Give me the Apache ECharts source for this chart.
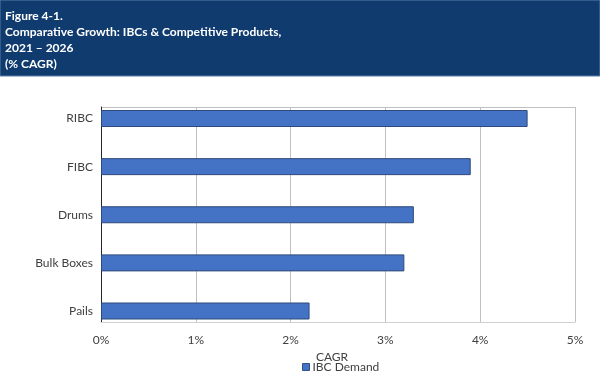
<!DOCTYPE html>
<html>
<head>
<meta charset="utf-8">
<script src="https://cdn.jsdelivr.net/npm/echarts@6/dist/echarts.min.js"></script>
<style>
  html, body { margin: 0; padding: 0; background: #fff; }
  #chart { width: 600px; height: 375px; }
</style>
</head>
<body>
<div id="chart"></div>
<script>
const categories = ['RIBC', 'FIBC', 'Drums', 'Bulk Boxes', 'Pails'];
const cagrValues = [4.5, 3.9, 3.3, 3.2, 2.2];
const tickLabels = ['0%', '1%', '2%', '3%', '4%', '5%'];

const myChart = echarts.init(document.getElementById('chart'));
const font = "Lato, 'Open Sans', sans-serif";
const labelColor = '#404040';
const gridColor = '#c0c0c0';

let option = {
    animation: false,
    textStyle: {fontFamily: font},
    graphic: [
        {
            type: 'rect',
            shape: {x: 0, y: 0, width: 600, height: 76},
            style: {fill: '#0f3b6e', stroke: '#5a7fa8', lineWidth: 1},
            z: 0
        }
    ],
    title: {
        text: 'Figure 4-1.\nComparative Growth: IBCs & Competitive Products,\n2021 \u2013 2026\n(% CAGR)',
        left: 0,
        top: 3,
        textStyle: {
            color: '#ffffff',
            fontSize: 12,
            fontWeight: 'bold',
            lineHeight: 16,
            fontFamily: font
        }
    },
    legend: {
        top: 361,
        left: 302,
        icon: 'rect',
        itemWidth: 7,
        itemHeight: 7,
        itemGap: 4,
        padding: 0,
        itemStyle: {borderColor: '#2f528f', borderWidth: 1},
        textStyle: {color: labelColor, fontSize: 12, fontFamily: font, padding: [0, 0, 0, -2]},
        data: ['IBC Demand']
    },
    grid: [
        // frame + gridlines
        {left: 101, right: 25, top: 107, bottom: 53},
        // bars
        {left: 101, right: 25, top: 118.5, bottom: 64}
    ],
    xAxis: [
        {
            gridIndex: 0,
            type: 'value',
            min: 0,
            max: 5,
            interval: 1,
            name: 'CAGR',
            nameLocation: 'middle',
            nameGap: 22,
            nameTextStyle: {color: labelColor, fontSize: 12, fontFamily: font, padding: [0, 12, 0, 0]},
            axisLine: {show: true, lineStyle: {color: '#d0d0d0', width: 1}},
            axisTick: {show: false},
            axisLabel: {
                color: labelColor,
                fontSize: 12,
                margin: 12,
                formatter: (v) => tickLabels[Math.round(v)]
            },
            splitLine: {show: true, lineStyle: {color: gridColor, width: 1}}
        },
        {
            gridIndex: 1,
            type: 'value',
            min: 0,
            max: 5,
            interval: 1,
            show: false
        }
    ],
    yAxis: [
        {
            gridIndex: 0,
            type: 'value',
            min: 0,
            max: 1,
            interval: 1,
            axisLine: {show: true, lineStyle: {color: '#262626', width: 1}},
            axisTick: {show: false},
            axisLabel: {show: false},
            splitLine: {show: true, lineStyle: {color: gridColor, width: 1}}
        },
        {
            gridIndex: 1,
            type: 'category',
            data: categories,
            inverse: true,
            boundaryGap: false,
            axisLine: {show: false},
            axisTick: {show: false},
            axisLabel: {color: labelColor, fontSize: 12, margin: 8}
        }
    ],
    series: [
        {
            name: 'IBC Demand',
            type: 'bar',
            xAxisIndex: 1,
            yAxisIndex: 1,
            data: cagrValues,
            barWidth: 17,
            itemStyle: {color: '#4472c4', borderColor: '#2f4a7a', borderWidth: 1}
        }
    ]
};
option && myChart.setOption(option);
</script>
</body>
</html>
